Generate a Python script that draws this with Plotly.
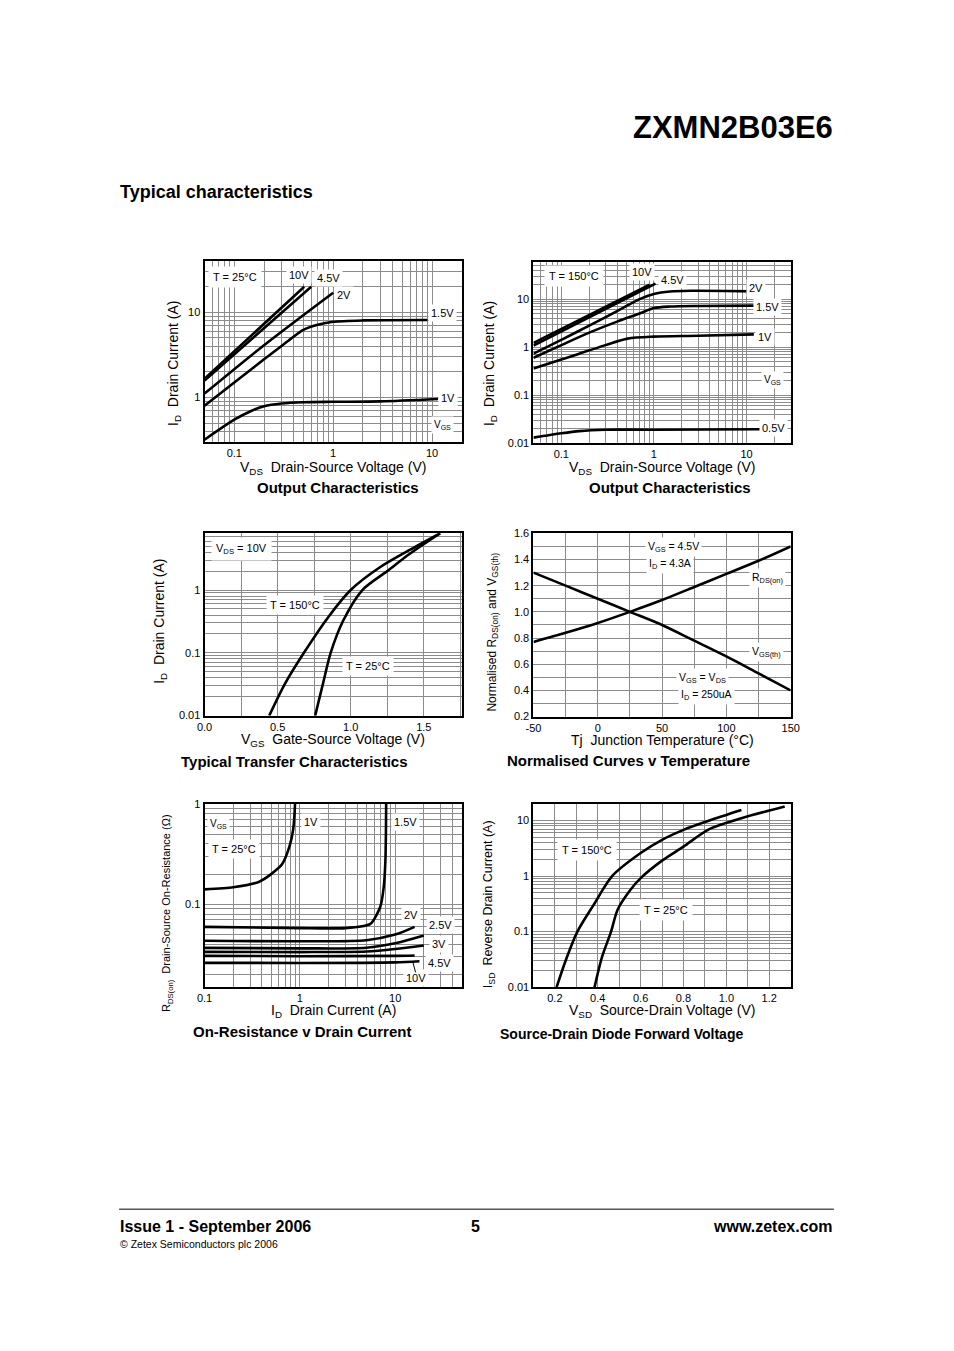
import math
import plotly.graph_objects as go

# page is 954x1351; the browser body adds an 8px margin, so the figure is 938x1335
OFF = 8
W, H = 954 - 2 * OFF, 1351 - 2 * OFF
F = "Liberation Sans, Arial, Helvetica, sans-serif"
FN = "Liberation Sans Narrow, Arial Narrow, Liberation Sans, Arial, sans-serif"

# ---------------- DATA ----------------
# Chart 1: Output characteristics, T = 25C  (VDS [V], ID [A])
c1_vds_10v = [0.05, 0.51]
c1_id_10v = [1.66, 19.8]
c1_vds_45v = [0.05, 0.6]
c1_id_45v = [1.58, 19.8]
c1_vds_2v = [0.05, 0.2, 1.0]
c1_id_2v = [1.11, 4.1, 16.9]
c1_vds_15v = [0.05, 0.1, 0.2, 0.35, 0.5, 0.7, 1.0, 2.0, 9.0]
c1_id_15v = [0.80, 1.5, 2.8, 4.6, 6.2, 7.1, 7.7, 8.0, 8.1]
c1_vds_1v = [0.05, 0.1, 0.15, 0.2, 0.3, 0.5, 1.0, 3.0, 11.5]
c1_id_1v = [0.32, 0.55, 0.70, 0.79, 0.85, 0.88, 0.89, 0.90, 0.96]

# Chart 2: Output characteristics, T = 150C
c2_vds_10v = [0.05, 0.9]
c2_id_10v = [1.22, 20.0]
c2_vds_45v = [0.05, 1.04]
c2_id_45v = [1.08, 21.0]
c2_vds_2v = [0.05, 0.1, 0.2, 0.4, 0.7, 1.0, 1.5, 2.5, 6.0, 12.0]
c2_id_2v = [0.73, 1.42, 2.8, 5.6, 10.0, 12.8, 14.4, 14.9, 14.8, 14.5]
c2_vds_15v = [0.05, 0.1, 0.2, 0.4, 0.7, 1.0, 1.5, 3.0, 12.0]
c2_id_15v = [0.60, 1.1, 2.0, 3.4, 5.0, 6.5, 7.0, 7.2, 7.3]
c2_vds_1v = [0.05, 0.1, 0.156, 0.3, 0.52, 1.0, 3.0, 12.0]
c2_id_1v = [0.36, 0.55, 0.73, 1.1, 1.5, 1.65, 1.72, 1.84]
c2_vds_05v = [0.05, 0.1, 0.156, 0.3, 1.0, 14.0]
c2_id_05v = [0.013, 0.016, 0.0178, 0.019, 0.019, 0.0195]

# Chart 3: Transfer characteristics (VGS [V], ID [A])
c3_vgs_150 = [0.443, 0.55, 0.68, 0.85, 1.0, 1.2, 1.4, 1.612]
c3_id_150 = [0.01, 0.032, 0.1, 0.38, 1.0, 2.3, 4.3, 8.0]
c3_vgs_25 = [0.757, 0.81, 0.863, 0.95, 1.08, 1.25, 1.4, 1.612]
c3_id_25 = [0.01, 0.032, 0.1, 0.33, 1.0, 2.0, 3.7, 8.0]

# Chart 4: Normalised curves v temperature
c4_tj = [-50, -25, 0, 25, 50, 75, 100, 125, 150]
c4_rdson = [0.77, 0.84, 0.915, 1.0, 1.09, 1.19, 1.29, 1.39, 1.50]
c4_vgsth = [1.30, 1.20, 1.10, 1.0, 0.90, 0.78, 0.66, 0.53, 0.40]

# Chart 5: On-resistance v drain current (ID [A], RDS(on) [ohm])
c5_id_1v = [0.1, 0.2, 0.37, 0.5, 0.65, 0.78, 0.85, 0.88, 0.89]
c5_r_1v = [0.141, 0.148, 0.167, 0.2, 0.25, 0.38, 0.55, 0.8, 1.0]
c5_id_15v = [0.1, 1.0, 3.0, 5.5, 6.97, 7.6, 7.9, 8.0, 8.05]
c5_r_15v = [0.0597, 0.058, 0.058, 0.064, 0.094, 0.15, 0.27, 0.5, 1.0]
c5_id_2v = [0.1, 1.0, 5.0, 10.0, 16.0]
c5_r_2v = [0.0434, 0.043, 0.044, 0.050, 0.0597]
c5_id_25v = [0.1, 1.0, 5.0, 10.0, 20.0]
c5_r_25v = [0.0369, 0.0365, 0.037, 0.041, 0.049]
c5_id_3v = [0.1, 1.0, 5.0, 10.0, 20.0]
c5_r_3v = [0.0337, 0.0335, 0.034, 0.036, 0.039]
c5_id_45v = [0.1, 1.0, 10.0, 16.0]
c5_r_45v = [0.0307, 0.0305, 0.0307, 0.031]
c5_id_10v = [0.1, 1.0, 10.0, 18.0]
c5_r_10v = [0.0262, 0.0261, 0.0265, 0.0272]

# Chart 6: Source-drain diode forward voltage (VSD [V], ISD [A])
c6_vsd_150 = [0.208, 0.25, 0.305, 0.38, 0.467, 0.6, 0.7, 0.8, 0.92, 1.07]
c6_isd_150 = [0.01, 0.03, 0.1, 0.3, 1.0, 2.6, 4.5, 6.8, 10.0, 15.5]
c6_vsd_25 = [0.385, 0.42, 0.462, 0.493, 0.55, 0.6, 0.7, 0.8, 0.92, 1.07, 1.272]
c6_isd_25 = [0.01, 0.035, 0.1, 0.25, 0.55, 0.92, 1.9, 3.4, 7.0, 11.0, 17.9]

# ---------------- LAYOUT HELPERS ----------------
def px(xp):
    return (xp - OFF) / W

def py(yp):
    return 1 - (yp - OFF) / H

boxes = {1: (200, 462, 257, 440), 2: (535, 797, 258, 441),
         3: (200, 462, 532, 716), 4: (535, 797, 532, 717),
         5: (200, 462, 805, 990), 6: (535, 797, 805, 990)}

def logvals(lo, hi):
    vals = []
    for e in range(-4, 4):
        for m in range(1, 10):
            v = m * 10 ** e
            if lo * 0.999 <= v <= hi * 1.001:
                vals.append(round(v, 6))
    return vals

axis_types = {}
GRID = "#8c8c8c"

fig = go.Figure()

def add_axes(i, xtype, xr, xmaj, xtt, xgrid, ytype, yr, ymaj, ytt, ygrid):
    x0, x1, y0, y1 = boxes[i]
    common = dict(showline=True, linecolor="black", linewidth=2, mirror=True,
                  showgrid=True, gridcolor=GRID, gridwidth=1, zeroline=False,
                  ticks="", tickfont=dict(family=F, size=11, color="black"),
                  tickmode="array", fixedrange=True)
    xs = "xaxis" if i == 1 else f"xaxis{i}"
    ys = "yaxis" if i == 1 else f"yaxis{i}"
    xa = dict(common, type=xtype, range=xr, tickvals=xmaj, ticktext=xtt,
              minor=dict(tickmode="array", tickvals=xgrid, showgrid=True,
                         gridcolor=GRID, gridwidth=1, ticks=""),
              domain=[px(x0), px(x1)], anchor="y" if i == 1 else f"y{i}")
    ya = dict(common, type=ytype, range=yr, tickvals=ymaj, ticktext=ytt,
              minor=dict(tickmode="array", tickvals=ygrid, showgrid=True,
                         gridcolor=GRID, gridwidth=1, ticks=""),
              domain=[py(y1), py(y0)], anchor="x" if i == 1 else f"x{i}")
    fig.update_layout({xs: xa, ys: ya})
    axis_types[i] = (xtype, ytype)

L = math.log10

# tick labels
c1_xticks = [0.1, 1, 10]
c1_xlabels = ["0.1", "1", "10"]
c1_yticks = [1, 10]
c1_ylabels = ["1", "10"]
c2_yticks = [0.01, 0.1, 1, 10]
c2_ylabels = ["0.01", "0.1", "1", "10"]
c3_xticks = [0.0, 0.5, 1.0, 1.5]
c3_xlabels = ["0.0", "0.5", "1.0", "1.5"]
c3_yticks = [0.01, 0.1, 1]
c3_ylabels = ["0.01", "0.1", "1"]
c4_xticks = [-50, 0, 50, 100, 150]
c4_xlabels = ["-50", "0", "50", "100", "150"]
c4_yticks = [0.2, 0.4, 0.6, 0.8, 1.0, 1.2, 1.4, 1.6]
c4_ylabels = ["0.2", "0.4", "0.6", "0.8", "1.0", "1.2", "1.4", "1.6"]
c5_yticks = [0.1, 1]
c5_ylabels = ["0.1", "1"]
c6_xticks = [0.2, 0.4, 0.6, 0.8, 1.0, 1.2]
c6_xlabels = ["0.2", "0.4", "0.6", "0.8", "1.0", "1.2"]

add_axes(1, "log", [L(0.05), L(20)], c1_xticks, c1_xlabels, logvals(0.05, 20),
         "log", [L(0.3), L(40)], c1_yticks, c1_ylabels, logvals(0.3, 40))
add_axes(2, "log", [L(0.05), L(30)], c1_xticks, c1_xlabels, logvals(0.05, 30),
         "log", [L(0.01), L(60)], c2_yticks, c2_ylabels, logvals(0.01, 60))
add_axes(3, "linear", [0, 1.76], c3_xticks, c3_xlabels, [i * 0.25 for i in range(8)],
         "log", [L(0.01), L(8)], c3_yticks, c3_ylabels, logvals(0.01, 8))
add_axes(4, "linear", [-50, 150], c4_xticks, c4_xlabels, list(range(-50, 151, 25)),
         "linear", [0.2, 1.6], c4_yticks, c4_ylabels, [round(0.2 + 0.1 * i, 2) for i in range(15)])
add_axes(5, "log", [L(0.1), L(50)], c1_xticks, c1_xlabels, logvals(0.1, 50),
         "log", [L(0.015), L(1)], c5_yticks, c5_ylabels, logvals(0.015, 1))
add_axes(6, "linear", [0.1, 1.3], c6_xticks, c6_xlabels, [round(0.1 * i, 1) for i in range(1, 14)],
         "log", [L(0.01), L(20)], c2_yticks, c2_ylabels, logvals(0.01, 20))

def curve(i, x, y, smooth=0.8):
    fig.add_trace(go.Scatter(x=x, y=y, mode="lines",
                             line=dict(color="black", width=2.6, shape="spline", smoothing=smooth),
                             xaxis="x" if i == 1 else f"x{i}",
                             yaxis="y" if i == 1 else f"y{i}",
                             showlegend=False, hoverinfo="skip"))

curve(1, c1_vds_10v, c1_id_10v)
curve(1, c1_vds_45v, c1_id_45v)
curve(1, c1_vds_2v, c1_id_2v)
curve(1, c1_vds_15v, c1_id_15v)
curve(1, c1_vds_1v, c1_id_1v)

curve(2, c2_vds_10v, c2_id_10v)
curve(2, c2_vds_45v, c2_id_45v)
curve(2, c2_vds_2v, c2_id_2v)
curve(2, c2_vds_15v, c2_id_15v)
curve(2, c2_vds_1v, c2_id_1v)
curve(2, c2_vds_05v, c2_id_05v)

curve(3, c3_vgs_150, c3_id_150)
curve(3, c3_vgs_25, c3_id_25)

curve(4, c4_tj, c4_rdson)
curve(4, c4_tj, c4_vgsth)

curve(5, c5_id_1v, c5_r_1v, 0.6)
curve(5, c5_id_15v, c5_r_15v, 0.6)
curve(5, c5_id_2v, c5_r_2v)
curve(5, c5_id_25v, c5_r_25v)
curve(5, c5_id_3v, c5_r_3v)
curve(5, c5_id_45v, c5_r_45v)
curve(5, c5_id_10v, c5_r_10v)

curve(6, c6_vsd_150, c6_isd_150)
curve(6, c6_vsd_25, c6_isd_25)

ann = []

def lab(i, text, x, y, size=11, bg=True, pad=2, **kw):
    xt, yt = axis_types[i]
    xx = L(x) if xt == "log" else x
    yy = L(y) if yt == "log" else y
    d = dict(text=text, x=xx, y=yy, xref="x" if i == 1 else f"x{i}",
             yref="y" if i == 1 else f"y{i}", showarrow=False,
             font=dict(family=F, size=size, color="black"),
             borderpad=pad)
    if bg:
        d["bgcolor"] = "white"
    d.update(kw)
    ann.append(d)

def ptxt(text, xp, yp, size=14, bold=False, xanchor="center", angle=0, family=F, yanchor="middle"):
    t = f"<b>{text}</b>" if bold else text
    ann.append(dict(text=t, x=px(xp), y=py(yp), xref="paper", yref="paper",
                    showarrow=False, xanchor=xanchor, yanchor=yanchor, textangle=angle,
                    font=dict(family=family, size=size, color="black")))

# Chart 1 labels
lab(1, "T = 25°C", 0.102, 26, pad=4)
lab(1, "10V", 0.45, 27.4)
lab(1, "4.5V", 0.89, 25.4)
lab(1, "2V", 1.29, 15.7)
lab(1, "1.5V", 12.8, 9.7)
lab(1, "1V", 14.4, 0.99)
lab(1, "V<sub>GS</sub>", 12.8, 0.47, size=10)

# Chart 2 labels
lab(2, "T = 150°C", 0.138, 29.8, pad=4)
lab(2, "10V", 0.75, 36)
lab(2, "4.5V", 1.6, 24.7)
lab(2, "2V", 12.8, 16.9)
lab(2, "1.5V", 16.7, 6.85)
lab(2, "1V", 15.8, 1.64)
lab(2, "V<sub>GS</sub>", 18.9, 0.204, size=10)
lab(2, "0.5V", 19.4, 0.0209)

# Chart 3 labels
lab(3, "V<sub>DS</sub> = 10V", 0.255, 4.45, pad=4)
lab(3, "T = 150°C", 0.618, 0.58, pad=3)
lab(3, "T = 25°C", 1.12, 0.061, pad=3)

# Chart 4 labels
lab(4, "V<sub>GS</sub> = 4.5V", 58.5, 1.492, size=10.5)
lab(4, "I<sub>D</sub> = 4.3A", 56.2, 1.363, size=10.5)
lab(4, "R<sub>DS(on)</sub>", 132.3, 1.257, size=10.5)
lab(4, "V<sub>GS(th)</sub>", 130.8, 0.69, size=10.5)
lab(4, "V<sub>GS</sub> = V<sub>DS</sub>", 81.5, 0.493, size=10.5)
lab(4, "I<sub>D</sub> = 250uA", 84.6, 0.364, size=10.5)

# Chart 5 labels
lab(5, "V<sub>GS</sub>", 0.14, 0.632, size=10)
lab(5, "T = 25°C", 0.206, 0.357, pad=3)
lab(5, "1V", 1.32, 0.662)
lab(5, "1.5V", 12.7, 0.662)
lab(5, "2V", 14.6, 0.079)
lab(5, "2.5V", 29.8, 0.063)
lab(5, "3V", 29.1, 0.0407)
lab(5, "4.5V", 29.1, 0.0263)
lab(5, "10V", 16.4, 0.0183)
ann.append(dict(x=L(15.4), y=L(0.0262), xref="x5", yref="y5", ax=3, ay=11,
                showarrow=True, arrowhead=0, arrowwidth=1, arrowcolor="black", text=""))

# Chart 6 labels
lab(6, "T = 150°C", 0.35, 2.93, pad=4)
lab(6, "T = 25°C", 0.72, 0.246, pad=4)

# Axis titles & captions
ptxt("V<sub>DS</sub>  Drain-Source Voltage (V)", 331, 466, 14)
ptxt("Output Characteristics", 336, 486, 15, bold=True)
ptxt("I<sub>D</sub>  Drain Current (A)", 169, 361, 14, angle=-90)
ptxt("V<sub>DS</sub>  Drain-Source Voltage (V)", 666, 466, 14)
ptxt("Output Characteristics", 674, 486, 15, bold=True)
ptxt("I<sub>D</sub>  Drain Current (A)", 491, 361, 14, angle=-90)

ptxt("V<sub>GS</sub>  Gate-Source Voltage (V)", 331, 741, 14)
ptxt("Typical Transfer Characteristics", 292, 762, 15, bold=True)
ptxt("I<sub>D</sub>  Drain Current (A)", 155, 621, 14, angle=-90)
ptxt("Tj  Junction Temperature (°C)", 666, 741, 14)
ptxt("Normalised Curves v Temperature", 632, 761, 15, bold=True)
ptxt("Normalised R<sub>DS(on)</sub> and V<sub>GS(th)</sub>", 494, 632, 12, angle=-90)

ptxt("I<sub>D</sub>  Drain Current (A)", 331, 1014, 14)
ptxt("On-Resistance v Drain Current", 299, 1035, 15, bold=True)
ptxt("R<sub>DS(on)</sub>  Drain-Source On-Resistance (Ω)", 162, 915, 11, angle=-90)
ptxt("V<sub>SD</sub>  Source-Drain Voltage (V)", 666, 1014, 14)
ptxt("Source-Drain Diode Forward Voltage", 625, 1037, 14, bold=True)
ptxt("I<sub>SD</sub>  Reverse Drain Current (A)", 490, 906, 12.5, angle=-90)

# Page header & footer
ptxt("ZXMN2B03E6", 842, 123, 31, bold=True, xanchor="right", family=FN)
ptxt("Typical characteristics", 112, 188, 18, bold=True, xanchor="left", family=FN)
ptxt("Issue 1 - September 2006", 112, 1231, 16, bold=True, xanchor="left", family=FN)
ptxt("5", 476, 1231, 16, bold=True, family=FN)
ptxt("www.zetex.com", 842, 1231, 16, bold=True, xanchor="right", family=FN)
ptxt("© Zetex Semiconductors plc 2006", 112, 1249, 10.5, xanchor="left", family=FN)

fig.update_layout(
    width=W, height=H, margin=dict(l=0, r=0, t=0, b=0),
    paper_bgcolor="white", plot_bgcolor="white", showlegend=False,
    annotations=ann,
    shapes=[dict(type="line", xref="paper", yref="paper", x0=px(113), x1=px(841),
                 y0=py(1214), y1=py(1214), line=dict(color="black", width=1))],
)

fig.write_html("out.html", config={"displayModeBar": False})
